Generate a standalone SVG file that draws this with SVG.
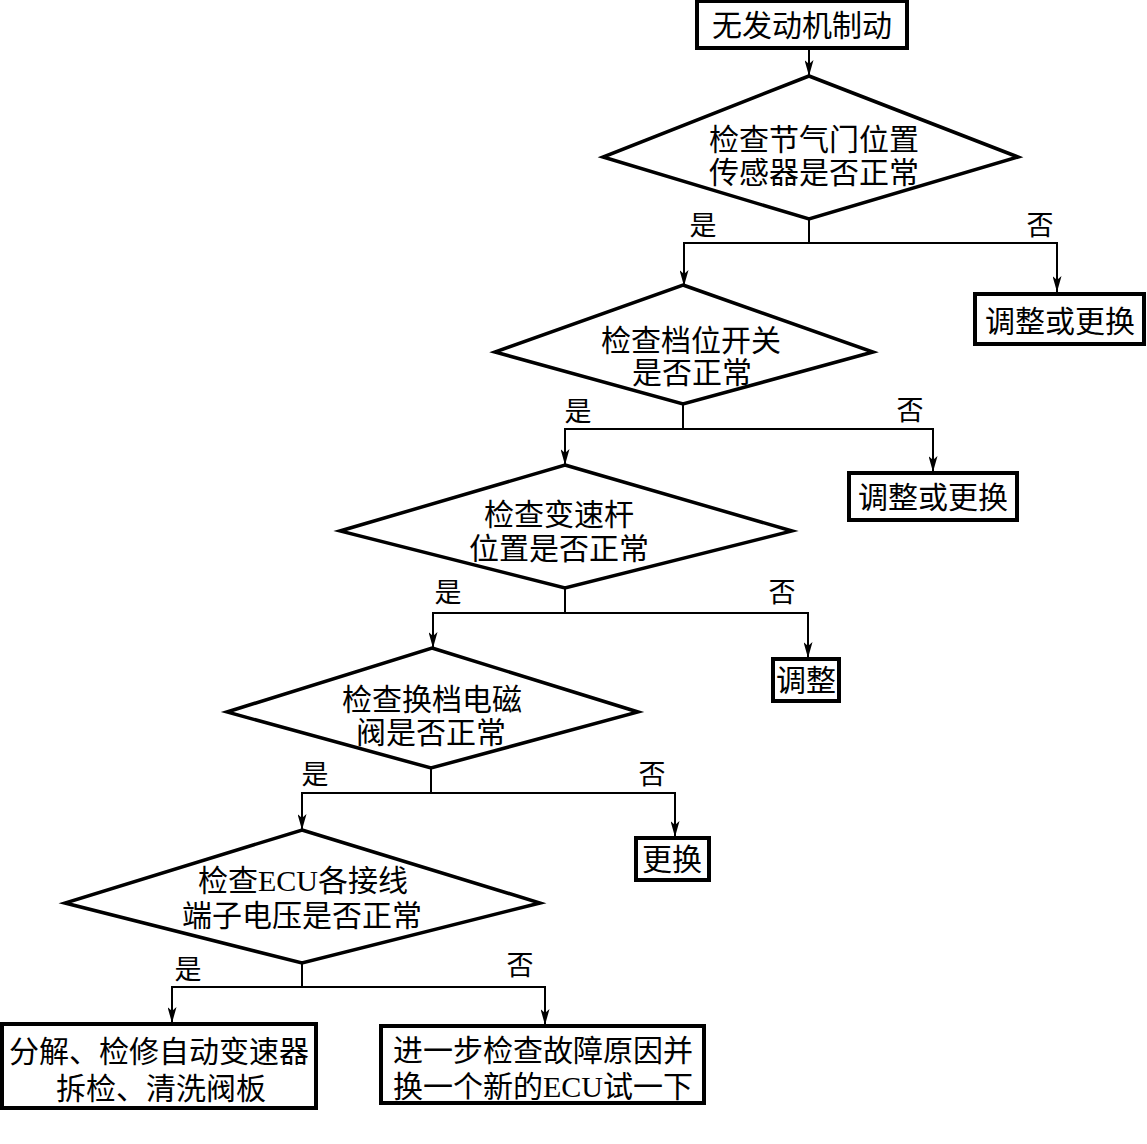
<svg xmlns="http://www.w3.org/2000/svg" width="1147" height="1144" viewBox="0 0 1147 1144">
<style>
  .box{fill:#fff;stroke:#000;stroke-width:4}
  .dia{fill:#fff;stroke:#000;stroke-width:3.5;stroke-linejoin:miter}
  .t{font-family:"Liberation Serif","Noto Sans CJK SC",serif;font-size:30px;fill:#000;text-anchor:middle}
  .lb{font-family:"Noto Sans CJK SC",sans-serif;font-size:27px;fill:#000;text-anchor:middle}
  .c{fill:none;stroke:#000;stroke-width:2}
</style>
<defs>
  <marker id="ah" viewBox="0 0 16 9" refX="16" refY="4.5" markerWidth="16" markerHeight="9" markerUnits="userSpaceOnUse" orient="auto">
    <path d="M0,0 L16,4.5 L0,9 L4,4.5 z" fill="#000"/>
  </marker>
</defs>
<rect width="1147" height="1144" fill="#fff"/>

<g id="connectors">
  <path class="c" d="M809,49 V76" marker-end="url(#ah)"/>
  <path class="c" d="M809,219 V243"/>
  <path class="c" d="M809,243 H684 V286" marker-end="url(#ah)"/>
  <path class="c" d="M809,243 H1057 V292" marker-end="url(#ah)"/>
  <path class="c" d="M683,404 V429"/>
  <path class="c" d="M683,429 H565 V465" marker-end="url(#ah)"/>
  <path class="c" d="M683,429 H933 V472" marker-end="url(#ah)"/>
  <path class="c" d="M565,588 V613"/>
  <path class="c" d="M565,613 H433 V648" marker-end="url(#ah)"/>
  <path class="c" d="M565,613 H808 V658" marker-end="url(#ah)"/>
  <path class="c" d="M431,768 V793"/>
  <path class="c" d="M431,793 H302 V830" marker-end="url(#ah)"/>
  <path class="c" d="M431,793 H675 V837" marker-end="url(#ah)"/>
  <path class="c" d="M302,963 V987"/>
  <path class="c" d="M302,987 H172 V1023" marker-end="url(#ah)"/>
  <path class="c" d="M302,987 H545 V1025" marker-end="url(#ah)"/>
  <text class="lb" x="703" y="235">是</text>
  <text class="lb" x="1040" y="235">否</text>
  <text class="lb" x="578" y="421">是</text>
  <text class="lb" x="910" y="420">否</text>
  <text class="lb" x="448" y="602">是</text>
  <text class="lb" x="782" y="602">否</text>
  <text class="lb" x="315" y="784">是</text>
  <text class="lb" x="652" y="784">否</text>
  <text class="lb" x="188" y="979">是</text>
  <text class="lb" x="520" y="975">否</text>
</g>

<g id="start">
  <rect class="box" x="697" y="1" width="210" height="47"/>
  <text class="t" x="802" y="36">无发动机制动</text>
</g>

<g id="d1">
  <polygon class="dia" points="809,76 1018,157 809,219 603,157"/>
  <text class="t" x="814" y="150">检查节气门位置</text>
  <text class="t" x="814" y="183">传感器是否正常</text>
</g>
<g id="r1">
  <rect class="box" x="975" y="294" width="169" height="50"/>
  <text class="t" x="1060" y="332">调整或更换</text>
</g>

<g id="d2">
  <polygon class="dia" points="683,285 873,352 683,404 495,352"/>
  <text class="t" x="691" y="351">检查档位开关</text>
  <text class="t" x="692" y="383">是否正常</text>
</g>
<g id="r2">
  <rect class="box" x="849" y="473" width="168" height="47"/>
  <text class="t" x="933" y="508">调整或更换</text>
</g>

<g id="d3">
  <polygon class="dia" points="565,465 792,531 565,588 340,531"/>
  <text class="t" x="559" y="525">检查变速杆</text>
  <text class="t" x="559" y="559">位置是否正常</text>
</g>
<g id="r3">
  <rect class="box" x="773" y="659" width="66" height="42"/>
  <text class="t" x="806" y="691">调整</text>
</g>

<g id="d4">
  <polygon class="dia" points="432,648 638,712 431,768 227,712"/>
  <text class="t" x="432" y="710">检查换档电磁</text>
  <text class="t" x="431" y="743">阀是否正常</text>
</g>
<g id="r4">
  <rect class="box" x="636" y="838" width="73" height="42"/>
  <text class="t" x="672" y="870">更换</text>
</g>

<g id="d5">
  <polygon class="dia" points="302,830 540,903 302,963 65,903"/>
  <text class="t" x="303" y="891">检查ECU各接线</text>
  <text class="t" x="302" y="926">端子电压是否正常</text>
</g>

<g id="r5">
  <rect class="box" x="2" y="1024" width="314" height="84"/>
  <text class="t" x="159" y="1062">分解、检修自动变速器</text>
  <text class="t" x="161" y="1099">拆检、清洗阀板</text>
</g>
<g id="r6">
  <rect class="box" x="381" y="1026" width="323" height="77"/>
  <text class="t" x="543" y="1061">进一步检查故障原因并</text>
  <text class="t" x="543" y="1097">换一个新的ECU试一下</text>
</g>
</svg>
